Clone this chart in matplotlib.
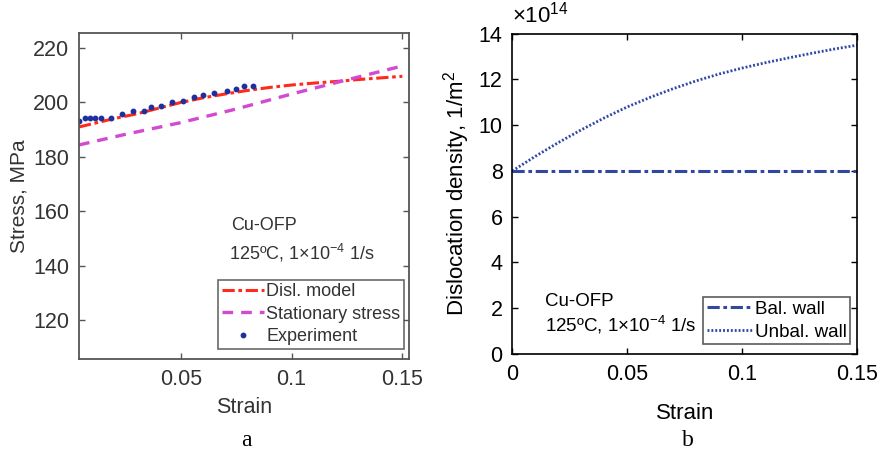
import matplotlib
matplotlib.use("Agg")
import matplotlib.pyplot as plt
import numpy as np

plt.rcParams['font.family'] = ['Liberation Sans', 'DejaVu Sans']
plt.rcParams['mathtext.fontset'] = 'custom'
plt.rcParams['mathtext.rm'] = 'Liberation Sans'
plt.rcParams['mathtext.it'] = 'Liberation Sans:italic'
plt.rcParams['mathtext.bf'] = 'Liberation Sans:bold'

# ---- (a) stress vs strain ----
disl_strain = [0.004, 0.02, 0.03, 0.04, 0.05, 0.06, 0.07, 0.08, 0.09, 0.10,
               0.11, 0.12, 0.13, 0.14, 0.15]
disl_stress = [190.9, 194.0, 195.7, 197.8, 199.9, 201.6, 203.0, 204.3, 205.4,
               206.3, 207.0, 207.6, 208.3, 208.9, 209.5]

stat_strain = [0.004, 0.025, 0.05, 0.075, 0.10, 0.125, 0.15]
stat_stress = [184.3, 188.2, 192.5, 197.5, 203.0, 208.2, 213.3]

exp_strain = [0.0042, 0.0069, 0.0088, 0.0114, 0.0140, 0.0185, 0.0234, 0.0282,
              0.0332, 0.0365, 0.0411, 0.0459, 0.0509, 0.0557, 0.0602, 0.0651,
              0.0707, 0.0749, 0.0785, 0.0824]
exp_stress = [193.2, 194.1, 194.1, 194.3, 194.3, 194.3, 195.6, 196.8, 196.8,
              198.2, 198.6, 200.0, 200.6, 201.8, 202.6, 203.3, 204.0, 204.9,
              206.0, 206.0]

a_xticks = [0.05, 0.1, 0.15]
a_xticklabels = ['0.05', '0.1', '0.15']
a_yticks = [120, 140, 160, 180, 200, 220]

# ---- (b) dislocation density vs strain ----
b_strain = [0.0, 0.01, 0.02, 0.03, 0.04, 0.05, 0.06, 0.07, 0.08, 0.09, 0.10,
            0.11, 0.12, 0.13, 0.14, 0.15]
bal_wall = [8.0] * len(b_strain)
unbal_wall = [8.0, 8.64, 9.24, 9.80, 10.32, 10.80, 11.22, 11.60, 11.94, 12.24,
              12.50, 12.73, 12.94, 13.14, 13.33, 13.50]

b_xticks = [0, 0.05, 0.1, 0.15]
b_xticklabels = ['0', '0.05', '0.1', '0.15']
b_yticks = [0, 2, 4, 6, 8, 10, 12, 14]

fig = plt.figure(figsize=(8.8, 4.54), dpi=100)

W, H = 880, 454
def box(l, t, r, b):
    return [l / W, 1 - b / H, (r - l) / W, (b - t) / H]

# panel a
ax1 = fig.add_axes(box(79, 33, 409, 359))
red = '#ff2a1a'
mag = '#d24ad2'
dotc = '#1f2f9e'
ax1.plot(disl_strain, disl_stress, color=red, lw=2.2,
         dashes=(4, 1.2, 1.2, 1.2), label='Disl. model')
ax1.plot(stat_strain, stat_stress, color=mag, lw=2.4,
         dashes=(3.2, 2.4), label='Stationary stress')
ax1.plot(exp_strain, exp_stress, ls='none', marker='o', ms=3.2,
         color=dotc, mec=dotc, label='Experiment')
ax1.set_xlim(0.004, 0.153)
ax1.set_ylim(105.7, 225.4)
ax1.set_xticks(a_xticks)
ax1.set_xticklabels(a_xticklabels)
ax1.set_yticks(a_yticks)
frame_a = '#555555'
txt_a = '#333333'
for s in ax1.spines.values():
    s.set_color(frame_a)
    s.set_linewidth(1.3)
ax1.tick_params(direction='in', top=True, right=True, length=4, width=1,
                color=frame_a, labelsize=15.5, labelcolor=txt_a, pad=7)
ax1.set_xlabel('Strain', fontsize=15.5, color=txt_a, labelpad=5)
ax1.set_ylabel('Stress, MPa', fontsize=15, color=txt_a, labelpad=3)
ax1.text(0.46, 0.411, 'Cu-OFP', transform=ax1.transAxes, fontsize=13,
         color=txt_a, va='center')
ax1.text(0.455, 0.325, '125ºC, 1×10$^{-4}$ 1/s', transform=ax1.transAxes,
         fontsize=13, color=txt_a, va='center')
leg1 = ax1.legend(loc='lower right', bbox_to_anchor=(0.985, 0.032),
                  fontsize=13, handlelength=2.3, handletextpad=0.15,
                  labelspacing=0.3, borderpad=0.2, borderaxespad=0,
                  frameon=True, fancybox=False, edgecolor='#444444')
leg1.get_frame().set_linewidth(1.2)
for t in leg1.get_texts():
    t.set_color(txt_a)

# panel b
ax2 = fig.add_axes(box(512.3, 33.7, 857.3, 354))
blue = '#3047a6'
ax2.plot(b_strain, bal_wall, color=blue, lw=2.2,
         dashes=(4, 1.2, 1.2, 1.2), label='Bal. wall')
ax2.plot(b_strain, unbal_wall, color=blue, lw=2.0,
         dashes=(0.7, 0.7), label='Unbal. wall')
ax2.set_xlim(0, 0.15)
ax2.set_ylim(0, 14)
ax2.set_xticks(b_xticks)
ax2.set_xticklabels(b_xticklabels)
ax2.set_yticks(b_yticks)
for s in ax2.spines.values():
    s.set_color('black')
    s.set_linewidth(1.2)
ax2.tick_params(direction='in', top=True, right=True, length=4, width=1,
                labelsize=15.5, pad=7)
ax2.set_xlabel('Strain', fontsize=16, labelpad=13)
ax2.set_ylabel('Dislocation density, 1/m$^2$', fontsize=16, labelpad=5)
ax2.text(0.0, 1.06, '×10$^{14}$', transform=ax2.transAxes, fontsize=16,
         va='center', ha='left')
ax2.text(0.095, 0.164, 'Cu-OFP', transform=ax2.transAxes, fontsize=13.5,
         va='center')
ax2.text(0.095, 0.09, '125ºC, 1×10$^{-4}$ 1/s', transform=ax2.transAxes,
         fontsize=13.5, va='center')
leg2 = ax2.legend(loc='lower right', bbox_to_anchor=(0.98, 0.03),
                  fontsize=13.5, handlelength=2.4, handletextpad=0.15,
                  labelspacing=0.3, borderpad=0.2, borderaxespad=0,
                  frameon=True, fancybox=False, edgecolor='#333333')
leg2.get_frame().set_linewidth(1.2)

# panel letters
fig.text(246.7 / W, 1 - 441 / H, 'a', fontsize=17, family='Liberation Serif',
         ha='center', va='center')
fig.text(688 / W, 1 - 441 / H, 'b', fontsize=17, family='Liberation Serif',
         ha='center', va='center')

fig.savefig('out.png', dpi=100)
